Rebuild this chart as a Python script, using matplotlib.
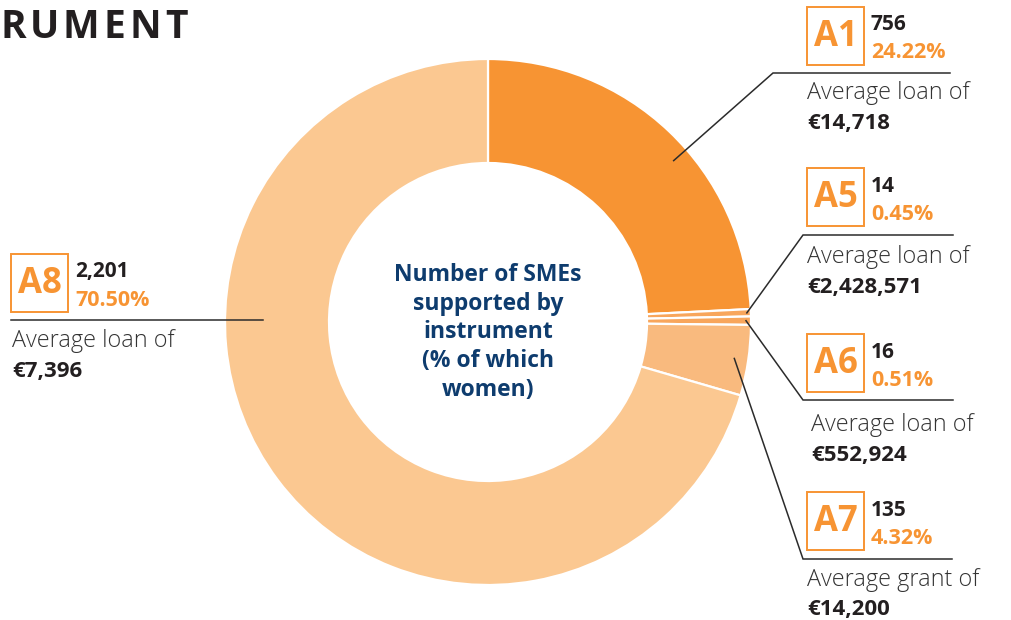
import numpy as np
import matplotlib
matplotlib.use("Agg")
import matplotlib.pyplot as plt
from matplotlib.patches import Rectangle

# Instruments and number of SMEs supported
instruments = ["A1", "A5", "A6", "A7", "A8"]
smes = [756, 14, 16, 135, 2201]
shares = ["24.22%", "0.45%", "0.51%", "4.32%", "70.50%"]
count_labels = ["756", "14", "16", "135", "2,201"]
avg_kind = ["Average loan of", "Average loan of", "Average loan of",
            "Average grant of", "Average loan of"]
avg_amount = ["€14,718", "€2,428,571", "€552,924", "€14,200", "€7,396"]
slice_colors = ["#F79433", "#F8A65C", "#F8A65C", "#F9BA7E", "#FBC891"]

ORANGE = "#F79433"
DARK = "#231F20"
NAVY = "#0E3C6E"
FONT = ["Open Sans", "DejaVu Sans"]

W, H = 1012, 620
fig = plt.figure(figsize=(W / 100, H / 100), dpi=100)
ax = fig.add_axes([0, 0, 1, 1])


def Y(y):
    return H - y


cx, cy = 488, 322
r_out, r_in = 263, 159

ax.pie(smes, startangle=90, counterclock=False, colors=slice_colors,
       center=(cx, Y(cy)), radius=r_out,
       wedgeprops=dict(width=r_out - r_in, edgecolor="white", linewidth=1.6))
ax.set_xlim(0, W)
ax.set_ylim(0, H)
ax.set_aspect("equal")
ax.axis("off")

# Mid angle of each wedge (degrees clockwise from 12 o'clock)
total = sum(smes)
cum = np.cumsum([0] + smes)
mid_deg = [(cum[i] + smes[i] / 2) / total * 360 for i in range(len(smes))]


def ring_point(deg, r):
    a = np.deg2rad(deg)
    return cx + r * np.sin(a), cy - r * np.cos(a)


# Label layout: elbow point, end of the rule, box top-left, anchor radius
layout = {
    "A1": dict(elbow=(773, 73), end=950, box=(807, 7), r=246, ang=49),
    "A5": dict(elbow=(803, 235), end=953, box=(807, 168), r=259, ang=None),
    "A6": dict(elbow=(803, 400), end=953, box=(807, 334), r=258, ang=None),
    "A7": dict(elbow=(803, 559), end=952, box=(807, 492), r=249, ang=None),
}
text_x = {"A1": 807, "A5": 807, "A6": 811, "A7": 807}

for i, name in enumerate(instruments):
    if name == "A8":
        continue
    L = layout[name]
    ang = L["ang"] if L["ang"] is not None else mid_deg[i]
    sx, sy = ring_point(ang, L["r"])
    ex, ey = L["elbow"]
    ax.plot([sx, ex, L["end"]], [Y(sy), Y(ey), Y(ey)], color="#2b2b2b",
            lw=1.1, solid_joinstyle="miter")

# A8 rule runs straight out to the left
ax.plot([11, 263], [Y(320), Y(320)], color="#2b2b2b", lw=1.1)
layout["A8"] = dict(box=(11, 254))
text_x["A8"] = 12


def draw_label(i, name):
    bx, by = layout[name]["box"]
    bw, bh = 57, 58
    ax.add_patch(Rectangle((bx, Y(by + bh)), bw, bh, fill=False,
                           edgecolor=ORANGE, lw=1.4))
    ax.text(bx + bw / 2, Y(by + bh / 2 + 1), name, color=ORANGE,
            fontsize=25, fontweight="bold", family=FONT,
            ha="center", va="center")
    ax.text(bx + bw + 7, Y(by + 18), count_labels[i], color=DARK,
            fontsize=15, fontweight="bold", family=FONT,
            ha="left", va="center")
    ax.text(bx + bw + 7, Y(by + 46), shares[i], color=ORANGE,
            fontsize=15.5, fontweight="bold", family=FONT,
            ha="left", va="center")
    tx = text_x[name]
    base = {"A1": 93, "A5": 257, "A6": 425, "A7": 580, "A8": 341}[name]
    ax.text(tx, Y(base), avg_kind[i], color="#333333", fontsize=16.8,
            fontweight="light", family=FONT, ha="left", va="center")
    ax.text(tx, Y(base + 30), avg_amount[i], color=DARK, fontsize=16,
            fontweight="bold", family=FONT, ha="left", va="center")


for i, name in enumerate(instruments):
    draw_label(i, name)

# Centre caption
center_lines = ["Number of SMEs", "supported by", "instrument",
                "(% of which", "women)"]
for k, line in enumerate(center_lines):
    ax.text(cx, Y(275 + k * 28.7), line, color=NAVY, fontsize=16.5,
            fontweight="bold", family=FONT, ha="center", va="center")

# Heading fragment at the top-left, drawn letter by letter with tracking
renderer = fig.canvas.get_renderer()
hx = 0
for ch in "RUMENT":
    t = ax.text(hx, Y(28), ch, color=DARK, fontsize=28, fontweight="bold",
                family=FONT, ha="left", va="center")
    bb = t.get_window_extent(renderer=renderer)
    hx += bb.width + 4.0

fig.savefig("out.png", dpi=100)
